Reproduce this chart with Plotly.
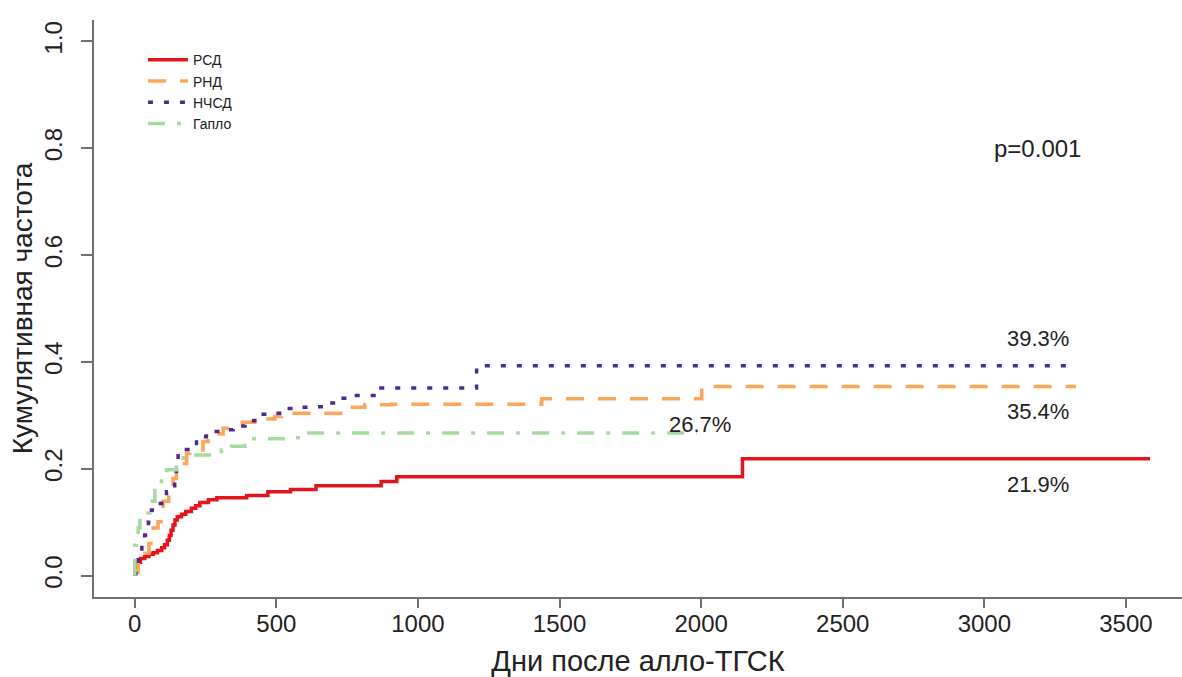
import plotly.graph_objects as go

# ---- data ----
rsd_days = [0, 0, 8, 20, 35, 50, 65, 80, 95, 105, 115, 122, 128, 135, 142, 150, 165, 180, 200, 215, 230, 260, 290, 395, 470, 550, 640, 870, 925, 2146, 3585]
rsd_cif = [0, 0.015, 0.025, 0.032, 0.036, 0.040, 0.043, 0.047, 0.052, 0.058, 0.066, 0.075, 0.085, 0.095, 0.104, 0.110, 0.115, 0.120, 0.126, 0.131, 0.137, 0.142, 0.146, 0.150, 0.157, 0.161, 0.168, 0.176, 0.185, 0.219, 0.219]

rnd_days = [0, 0, 12, 35, 50, 65, 82, 100, 120, 135, 147, 165, 183, 194, 241, 259, 290, 312, 342, 380, 424, 495, 518, 736, 812, 907, 1437, 2002, 3324]
rnd_cif = [0, 0.007, 0.026, 0.042, 0.060, 0.089, 0.101, 0.139, 0.160, 0.182, 0.195, 0.210, 0.229, 0.235, 0.251, 0.257, 0.265, 0.276, 0.280, 0.287, 0.293, 0.298, 0.304, 0.315, 0.320, 0.321, 0.331, 0.354, 0.354]

nchsd_days = [0, 0, 12, 25, 35, 48, 59, 75, 95, 112, 130, 141, 147, 153, 170, 194, 218, 253, 306, 347, 389, 424, 477, 524, 577, 630, 671, 718, 765, 854, 1207, 3296]
nchsd_cif = [0, 0.004, 0.039, 0.060, 0.076, 0.100, 0.123, 0.135, 0.148, 0.157, 0.168, 0.176, 0.204, 0.229, 0.236, 0.242, 0.260, 0.270, 0.273, 0.280, 0.290, 0.302, 0.304, 0.313, 0.315, 0.316, 0.323, 0.332, 0.337, 0.351, 0.393, 0.393]

gaplo_days = [0, 0, 5, 12, 18, 35, 53, 71, 94, 112, 147, 171, 306, 342, 389, 395, 565, 600, 1985]
gaplo_cif = [0, 0.057, 0.075, 0.089, 0.107, 0.117, 0.139, 0.170, 0.182, 0.198, 0.213, 0.226, 0.235, 0.242, 0.251, 0.256, 0.258, 0.267, 0.267]

series_names = ["РСД", "РНД", "НЧСД", "Гапло"]
end_labels = ["39.3%", "35.4%", "21.9%", "26.7%"]
p_text = "p=0.001"
x_ticks = [0, 500, 1000, 1500, 2000, 2500, 3000, 3500]
y_ticks = [0.0, 0.2, 0.4, 0.6, 0.8, 1.0]

FONT = "Liberation Sans, Arial, sans-serif"
AXIS_COL = "#707070"
TXT = "#222"

fig = go.Figure()
styles = [
    (rsd_days, rsd_cif, "#E3141B", "solid"),
    (rnd_days, rnd_cif, "#FDA65A", "18px,14px"),
    (nchsd_days, nchsd_cif, "#4E2A8E", "5px,11px"),
    (gaplo_days, gaplo_cif, "#A6DBA0", "17px,12px,4px,12px"),
]
for name, (xs, ys, col, dash) in zip(series_names, styles):
    fig.add_trace(go.Scatter(
        x=xs, y=ys, mode="lines", name=name, line_shape="hv",
        line=dict(color=col, width=3.5, dash=dash),
    ))

annotations = [
    dict(x=3190, y=0.444, text=end_labels[0], size=22),
    dict(x=3190, y=0.307, text=end_labels[1], size=22),
    dict(x=3190, y=0.170, text=end_labels[2], size=22),
    dict(x=1879, y=0.283, text=end_labels[3], size=22, xanchor="left"),
    dict(x=3186, y=0.800, text=p_text, size=24),
]
for a in annotations:
    size = a.pop("size")
    a.setdefault("xanchor", "center")
    fig.add_annotation(xref="x", yref="y", yanchor="middle", showarrow=False,
                       font=dict(family=FONT, size=size, color=TXT), **a)

fig.update_layout(
    width=1182, height=677,
    margin=dict(l=94, r=0, t=20, b=80, autoexpand=False),
    paper_bgcolor="white", plot_bgcolor="white",
    font=dict(family=FONT, color=TXT),
    showlegend=True,
    legend=dict(x=0.045, y=0.958, xanchor="left", yanchor="top",
                font=dict(family=FONT, size=14, color=TXT),
                itemwidth=40,
                bgcolor="rgba(0,0,0,0)", tracegroupgap=0),
)
fig.update_xaxes(
    range=[-144, 3698], tickvals=x_ticks, ticktext=[str(v) for v in x_ticks],
    automargin=False, ticklabelstandoff=-5,
    showline=True, linecolor=AXIS_COL, linewidth=2, mirror=False,
    ticks="outside", ticklen=9, tickwidth=2, tickcolor=AXIS_COL,
    showgrid=False, zeroline=False,
    tickfont=dict(family=FONT, size=24, color=TXT),
    title=dict(text="Дни после алло-ТГСК", font=dict(family=FONT, size=29, color=TXT)),
)
fig.update_yaxes(
    range=[-0.04, 1.04], tickvals=y_ticks, ticktext=[f"{v:.1f}" for v in y_ticks],
    tickangle=-90, automargin=False, ticklabelstandoff=9,
    showline=True, linecolor=AXIS_COL, linewidth=2, mirror=False,
    ticks="outside", ticklen=11, tickwidth=2, tickcolor=AXIS_COL,
    showgrid=False, zeroline=False,
    tickfont=dict(family=FONT, size=24, color=TXT),
    title=dict(text="Кумулятивная частота", font=dict(family=FONT, size=28, color=TXT), standoff=0),
)

fig.write_html("out.html", config={"displayModeBar": False},
               post_script="document.body.style.margin='0';document.body.style.padding='0';")
